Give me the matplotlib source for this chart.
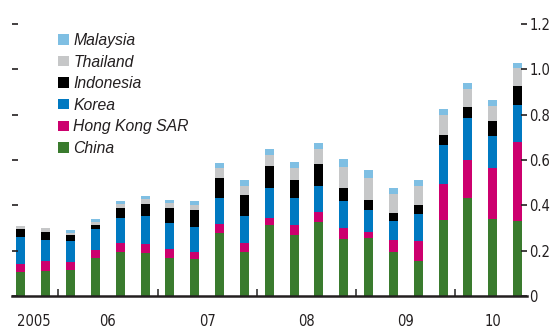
import numpy as np
import matplotlib.pyplot as plt

# quarterly, 2005Q3 - 2010Q3
quarters = ["2005Q3", "2005Q4",
            "2006Q1", "2006Q2", "2006Q3", "2006Q4",
            "2007Q1", "2007Q2", "2007Q3", "2007Q4",
            "2008Q1", "2008Q2", "2008Q3", "2008Q4",
            "2009Q1", "2009Q2", "2009Q3", "2009Q4",
            "2010Q1", "2010Q2", "2010Q3"]

china = [0.105, 0.111, 0.116, 0.167, 0.193, 0.190, 0.167, 0.164, 0.278, 0.193, 0.313,
         0.270, 0.325, 0.252, 0.255, 0.193, 0.155, 0.334, 0.434, 0.340, 0.331]
hong_kong = [0.036, 0.044, 0.035, 0.035, 0.041, 0.039, 0.041, 0.029, 0.038, 0.041, 0.030,
             0.043, 0.047, 0.047, 0.026, 0.053, 0.088, 0.158, 0.167, 0.226, 0.348]
korea = [0.120, 0.092, 0.092, 0.094, 0.110, 0.123, 0.114, 0.112, 0.115, 0.118, 0.133,
         0.120, 0.113, 0.120, 0.098, 0.085, 0.117, 0.176, 0.184, 0.140, 0.164]
indonesia = [0.035, 0.036, 0.026, 0.017, 0.043, 0.052, 0.065, 0.074, 0.089, 0.093, 0.097,
             0.079, 0.096, 0.057, 0.044, 0.035, 0.041, 0.041, 0.049, 0.066, 0.083]
thailand = [0.013, 0.017, 0.009, 0.013, 0.018, 0.022, 0.023, 0.021, 0.043, 0.040, 0.047,
            0.053, 0.066, 0.092, 0.096, 0.082, 0.083, 0.088, 0.079, 0.067, 0.081]
malaysia = [0.000, 0.000, 0.013, 0.014, 0.012, 0.014, 0.013, 0.019, 0.023, 0.025, 0.027,
            0.028, 0.030, 0.036, 0.035, 0.027, 0.026, 0.029, 0.027, 0.026, 0.021]

series = ["China", "Hong Kong SAR", "Korea", "Indonesia", "Thailand", "Malaysia"]
colors = ["#3a7b2e", "#cc006e", "#0079c1", "#000000", "#c6c7c8", "#7fbfe3"]
y_ticks = [0, 0.2, 0.4, 0.6, 0.8, 1.0, 1.2]

fig = plt.figure(figsize=(5.5, 3.29), dpi=100)
ax = fig.add_axes([12 / 550, 33 / 329, 515 / 550, 272 / 329])

x = np.arange(len(quarters))
bottom = np.zeros(len(quarters))
handles = []
for name, vals, c in zip(series, [china, hong_kong, korea, indonesia, thailand, malaysia], colors):
    b = ax.bar(x, vals, width=0.36, bottom=bottom, color=c, label=name, linewidth=0)
    handles.append(b)
    bottom += np.array(vals)

ax.set_xlim(-0.36, 20.38)
ax.set_ylim(0, 1.2)

for s in ["top", "left", "right"]:
    ax.spines[s].set_visible(False)
ax.spines["bottom"].set_linewidth(1.8)
ax.spines["bottom"].set_color("#231f20")

# y ticks: labels on the right, marks on both sides
ax.set_yticks(y_ticks)
ax.set_yticklabels(["0" if v == 0 else f"{v:.1f}" for v in y_ticks])
ax.tick_params(axis="y", direction="in", length=4, width=1.2, color="#231f20",
               left=True, right=True, labelleft=False, labelright=True,
               labelsize=10.5, labelcolor="#231f20", pad=1.5)

# year labels centred on each year's bars, separators between years
years = [q[:4] for q in quarters]
uniq = sorted(set(years))
label_pos = [np.mean([i for i, y in enumerate(years) if y == yr]) for yr in uniq]
breaks = [i - 0.5 for i in range(1, len(years)) if years[i] != years[i - 1]]
ax.set_xticks(label_pos)
ax.set_xticklabels([uniq[0]] + [yr[2:] for yr in uniq[1:]])
ax.tick_params(axis="x", length=0, pad=13, labelsize=10.5, labelcolor="#231f20")
ax.set_xticks(breaks, minor=True)
ax.tick_params(axis="x", which="minor", direction="in", length=5, width=1.3, color="#444444")

for t in ax.get_xticklabels() + ax.get_yticklabels():
    t.set_fontstretch("condensed")

leg = ax.legend(handles[::-1], series[::-1], loc="upper left", bbox_to_anchor=(0.075, 0.996),
                frameon=False, borderpad=0, handlelength=0.7, handleheight=0.65,
                handletextpad=0.25, labelspacing=0.42,
                prop={"family": ["Liberation Sans", "DejaVu Sans"], "style": "italic", "size": 11.3})
for t in leg.get_texts():
    t.set_color("#231f20")

fig.savefig("out.png", dpi=100)
